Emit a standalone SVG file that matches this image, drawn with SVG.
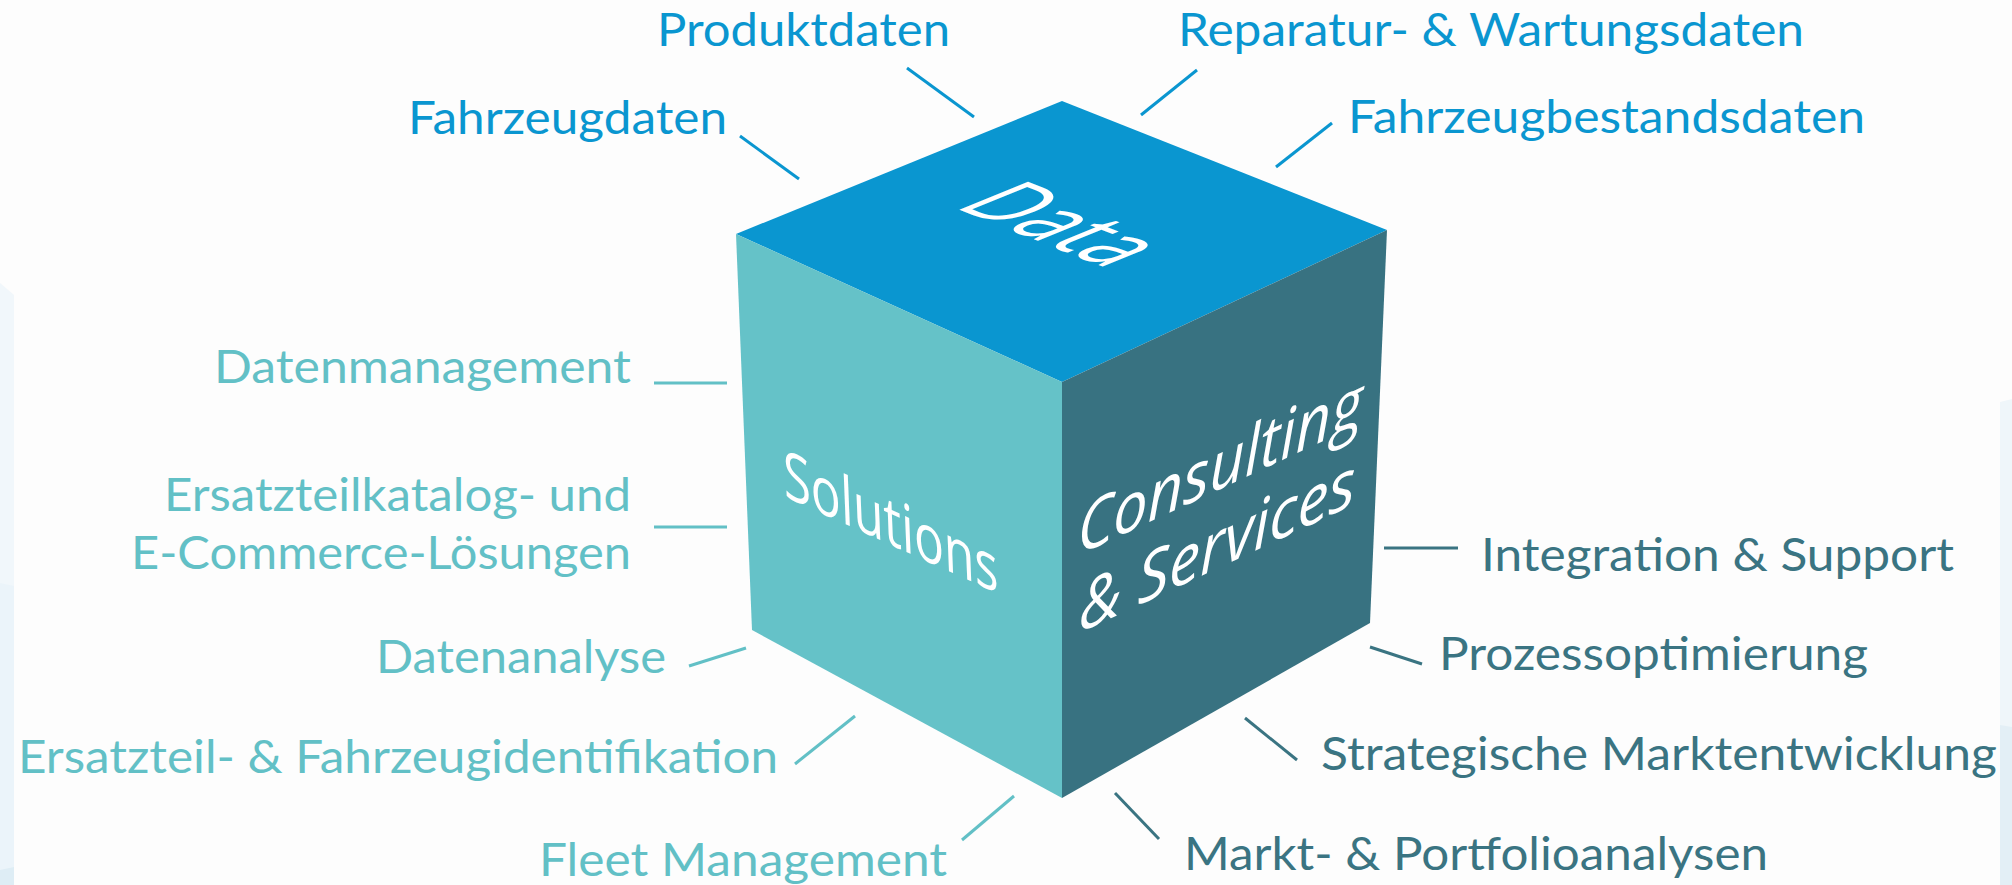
<svg xmlns="http://www.w3.org/2000/svg" width="2012" height="885" viewBox="0 0 2012 885">
<style>
.lbl{font-family:Lato,"Liberation Sans",sans-serif;font-size:46px;}
.blue{fill:#0a96d0;}
.teal{fill:#62c0c6;}
.dark{fill:#3a7482;}
.cubetxt{font-family:"Open Sans","Liberation Sans",sans-serif;fill:#ffffff;}
.cb{stroke:#0a96d0;stroke-width:3;fill:none;}
.ct{stroke:#62c0c6;stroke-width:3;fill:none;}
.cd{stroke:#3a7482;stroke-width:3;fill:none;}
</style>
<rect width="2012" height="885" fill="#fdfdfd"/>
<g id="background-strips">
<polygon points="0,283 14,295 14,885 0,885" fill="#f1f7fb"/>
<polygon points="0,583 14,586 14,885 0,885" fill="#ebf4fa"/>
<polygon points="0,870 14,867 14,885 0,885" fill="#deedf5"/>
<polygon points="2000,402 2012,399 2012,885 2000,885" fill="#eff6fa"/>
<polygon points="2000,725 2012,727 2012,885 2000,885" fill="#e3eff6"/>
</g>
<g id="cube">
<g id="face-data">
<polygon points="1062,101 1387,230 1062,382 736,234" fill="#0a96d0"/>
<text class="cubetxt" transform="matrix(3.25,1.29,-3.26,1.33,1062,101)" x="23.5" y="57" font-size="29.5" textLength="48" lengthAdjust="spacingAndGlyphs">Data</text>
</g>
<g id="face-solutions">
<polygon points="736,234 1062,382 1062,798 752,630" fill="#65c2c8"/>
<text class="cubetxt" transform="matrix(0.9106,0.4134,0.0404,1,736,234)" x="42" y="245" font-size="67" textLength="236" lengthAdjust="spacingAndGlyphs">Solutions</text>
</g>
<g id="face-consulting">
<polygon points="1062,382 1387,230 1370,623 1062,798" fill="#387281"/>
<text class="cubetxt" transform="matrix(0.9058,-0.4236,0,1,1062,382)" font-style="italic" font-size="67"><tspan x="17" y="181" textLength="315" lengthAdjust="spacingAndGlyphs">Consulting</tspan><tspan x="19" y="259" textLength="305" lengthAdjust="spacingAndGlyphs">&amp; Services</tspan></text>
</g>
</g>
<g id="connectors">
<line class="cb" x1="907" y1="68" x2="974" y2="117"/>
<line class="cb" x1="1197" y1="70" x2="1141" y2="115"/>
<line class="cb" x1="740" y1="136" x2="799" y2="179"/>
<line class="cb" x1="1332" y1="123" x2="1276" y2="167"/>
<line class="ct" x1="654" y1="383" x2="727" y2="383"/>
<line class="ct" x1="654" y1="527" x2="727" y2="527"/>
<line class="ct" x1="689" y1="666" x2="746" y2="648"/>
<line class="ct" x1="795" y1="764" x2="855" y2="716"/>
<line class="ct" x1="962" y1="840" x2="1014" y2="796"/>
<line class="cd" x1="1384" y1="548" x2="1458" y2="548"/>
<line class="cd" x1="1370" y1="647" x2="1422" y2="664"/>
<line class="cd" x1="1245" y1="718" x2="1297" y2="760"/>
<line class="cd" x1="1115" y1="793" x2="1159" y2="839"/>
</g>
<g id="label-produktdaten"><text class="lbl blue" x="657" y="46" textLength="293" lengthAdjust="spacingAndGlyphs">Produktdaten</text></g>
<g id="label-reparatur"><text class="lbl blue" x="1178" y="46" textLength="626" lengthAdjust="spacingAndGlyphs">Reparatur- &amp; Wartungsdaten</text></g>
<g id="label-fahrzeugdaten"><text class="lbl blue" x="408" y="134" textLength="319" lengthAdjust="spacingAndGlyphs">Fahrzeugdaten</text></g>
<g id="label-fahrzeugbestandsdaten"><text class="lbl blue" x="1348" y="133" textLength="517" lengthAdjust="spacingAndGlyphs">Fahrzeugbestandsdaten</text></g>
<g id="label-datenmanagement"><text class="lbl teal" x="214" y="383" textLength="417" lengthAdjust="spacingAndGlyphs">Datenmanagement</text></g>
<g id="label-ersatzteilkatalog"><text class="lbl teal" x="164" y="511" textLength="467" lengthAdjust="spacingAndGlyphs">Ersatzteilkatalog- und</text><text class="lbl teal" x="131" y="569" textLength="500" lengthAdjust="spacingAndGlyphs">E-Commerce-Lösungen</text></g>
<g id="label-datenanalyse"><text class="lbl teal" x="376" y="673" textLength="290" lengthAdjust="spacingAndGlyphs">Datenanalyse</text></g>
<g id="label-identifikation"><text class="lbl teal" x="18" y="773" textLength="760" lengthAdjust="spacingAndGlyphs">Ersatzteil- &amp; Fahrzeugidentifikation</text></g>
<g id="label-fleet"><text class="lbl teal" x="539" y="876" textLength="408" lengthAdjust="spacingAndGlyphs">Fleet Management</text></g>
<g id="label-integration"><text class="lbl dark" x="1481" y="571" textLength="473" lengthAdjust="spacingAndGlyphs">Integration &amp; Support</text></g>
<g id="label-prozess"><text class="lbl dark" x="1439" y="670" textLength="429" lengthAdjust="spacingAndGlyphs">Prozessoptimierung</text></g>
<g id="label-strategische"><text class="lbl dark" x="1321" y="770" textLength="676" lengthAdjust="spacingAndGlyphs">Strategische Marktentwicklung</text></g>
<g id="label-markt"><text class="lbl dark" x="1184" y="870" textLength="584" lengthAdjust="spacingAndGlyphs">Markt- &amp; Portfolioanalysen</text></g>
</svg>
